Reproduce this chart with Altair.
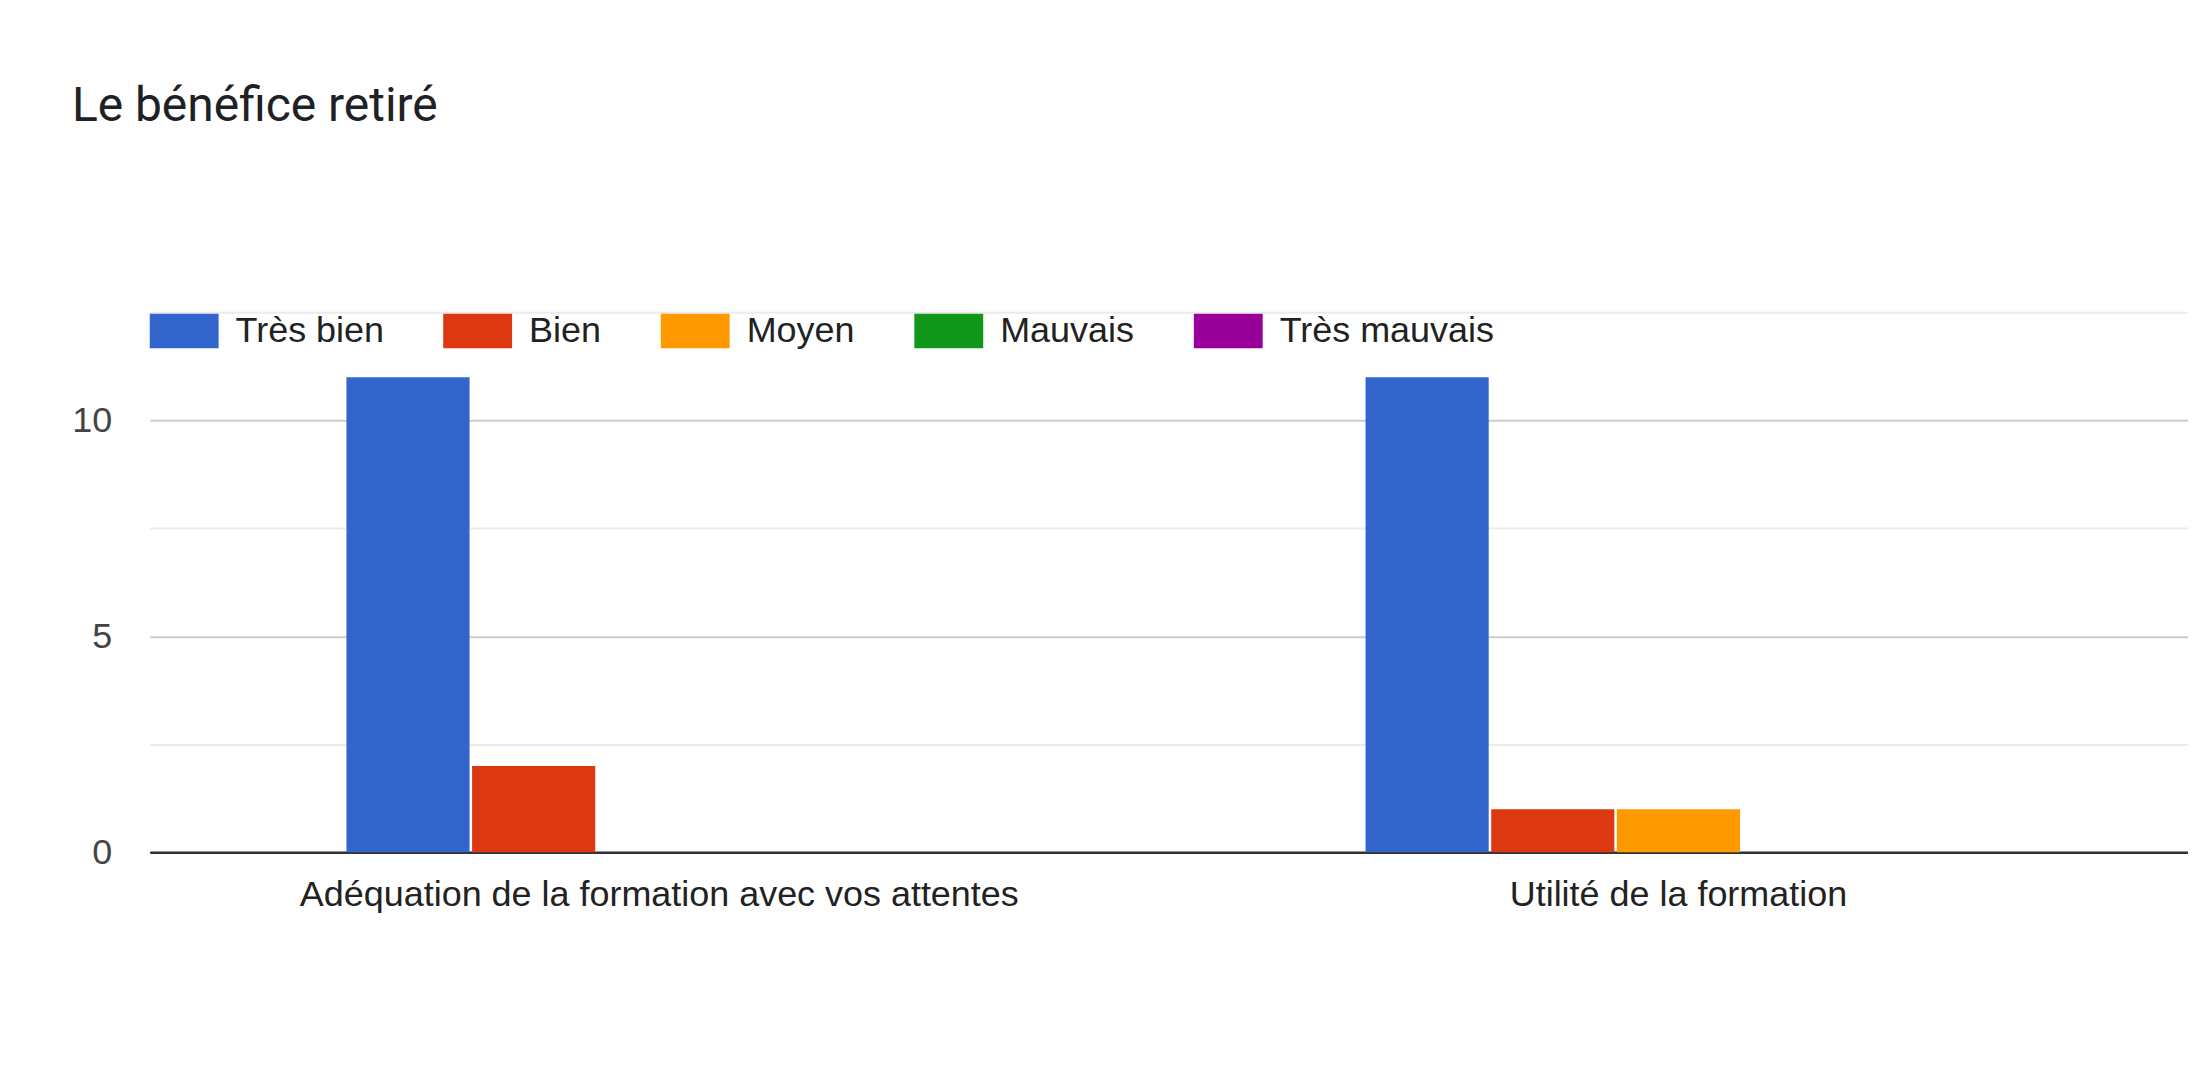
import altair as alt
import pandas as pd

# Le bénéfice retiré (réponses au questionnaire)
criteres = ["Adéquation de la formation avec vos attentes", "Utilité de la formation"]
reponses = ["Très bien", "Bien", "Moyen", "Mauvais", "Très mauvais"]
tres_bien = [11, 11]
bien = [2, 1]
moyen = [0, 1]
mauvais = [0, 0]
tres_mauvais = [0, 0]
couleurs = ["#3366cc", "#dc3912", "#ff9900", "#109618", "#990099"]
graduations = [0, 2.5, 5, 7.5, 10, 12.5]

rows = []
for rep, vals in zip(reponses, [tres_bien, bien, moyen, mauvais, tres_mauvais]):
    for crit, v in zip(criteres, vals):
        rows.append({"critere": crit, "reponse": rep, "nombre": v})
df = pd.DataFrame(rows)

chart = (
    alt.Chart(df)
    .mark_bar()
    .encode(
        x=alt.X(
            "critere:N",
            sort=criteres,
            title=None,
            scale=alt.Scale(paddingInner=0.386, paddingOuter=0.193),
            axis=alt.Axis(
                labelAngle=0,
                labelFont="Liberation Sans",
                labelFontSize=36,
                labelColor="#222222",
                labelPadding=25,
                labelLimit=2000,
                ticks=False,
                tickSize=0,
                domainColor="#333333",
                domainWidth=2.5,
                grid=False,
            ),
        ),
        xOffset=alt.XOffset(
            "reponse:N",
            sort=reponses,
            scale=alt.Scale(paddingInner=0.02, paddingOuter=0),
        ),
        y=alt.Y(
            "nombre:Q",
            title=None,
            scale=alt.Scale(domain=[0, 12.5], nice=False),
            axis=alt.Axis(
                values=graduations,
                labelExpr="datum.value % 5 === 0 ? datum.label : ''",
                labelFont="Liberation Sans",
                labelFontSize=36,
                labelColor="#444444",
                labelPadding=38,
                ticks=False,
                domain=False,
                gridWidth=2,
                gridColor={
                    "condition": {"test": "datum.value % 5 === 0", "value": "#cccccc"},
                    "value": "#ebebeb",
                },
            ),
        ),
        color=alt.Color(
            "reponse:N",
            sort=reponses,
            scale=alt.Scale(domain=reponses, range=couleurs),
            legend=alt.Legend(
                title=None,
                orient="none",
                direction="horizontal",
                legendX=0,
                legendY=-16,
                symbolType="M-1,-0.5H1V0.5H-1Z",
                symbolSize=4761,
                symbolStrokeWidth=0,
                symbolOpacity=1,
                labelFont="Liberation Sans",
                labelFontSize=36,
                labelColor="#222222",
                labelOffset=17,
                labelLimit=1000,
                columnPadding=59,
            ),
        ),
    )
    .properties(
        width=2042,
        height=541,
        autosize=alt.AutoSizeParams(type="none"),
        padding={"left": 142, "top": 304, "right": 0, "bottom": 150},
        title=alt.Title(
            "Le bénéfice retiré",
            anchor="start",
            frame="group",
            font="Roboto",
            fontSize=48,
            fontWeight="normal",
            color="#202124",
            dx=-78,
            offset=166,
        ),
    )
    .configure_view(stroke=None)
)

chart.save("out.html", embed_options={"renderer": "svg", "actions": False})
